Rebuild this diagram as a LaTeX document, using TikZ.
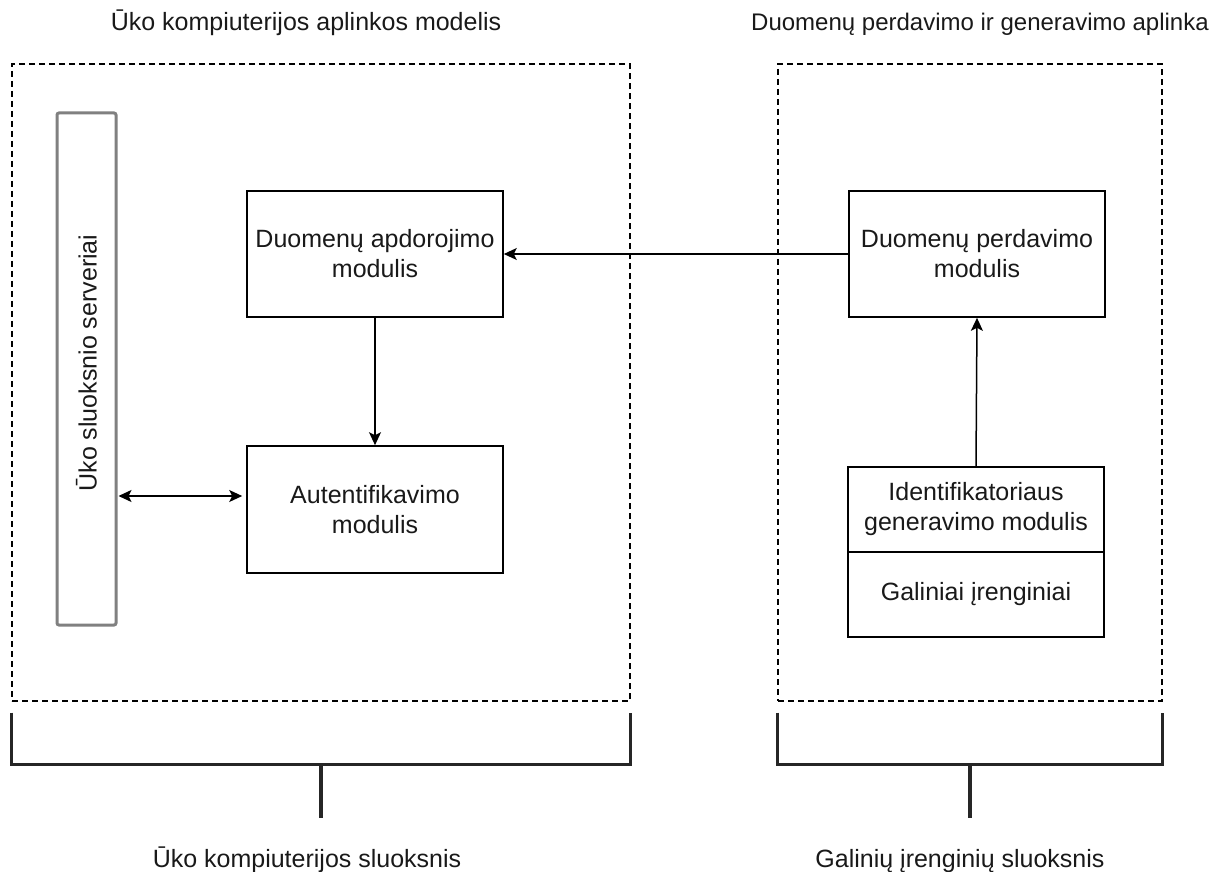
\documentclass[tikz,border=0pt]{standalone}
\usepackage{fontspec}
\setmainfont{Liberation Sans}
\usetikzlibrary{arrows.meta,calc}
\begin{document}
\begin{tikzpicture}[x=1pt,y=-1pt,
  lbl/.style={font=\fontsize{25}{30}\selectfont, align=center, text=black!90},
  module/.style={draw, line width=1.6pt, minimum width=256pt, inner sep=0pt, lbl},
  zone/.style={draw, dash pattern=on 6pt off 4pt, line width=1.3pt, inner sep=0pt},
  tip/.tip={Stealth[length=13pt,width=12pt,inset=3pt]},
  flow/.style={-tip, line width=1.5pt},
  dflow/.style={tip-tip, line width=1.5pt},
  bracketline/.style={line width=3.5pt, draw=black!85},
]
\useasboundingbox (0,0) rectangle (1213,872);

% environment zones
\node[zone, minimum width=618pt, minimum height=637pt] (zoneL) at (321,382.5) {};
\node[zone, minimum width=384pt, minimum height=637pt] (zoneR) at (970,382.5) {};

% zone titles
\node[lbl, anchor=base] (titleL) at (306,31) {Ūko kompiuterijos aplinkos modelis};
\node[lbl, font=\fontsize{24}{29}\selectfont, anchor=base] (titleR) at (980,31) {Duomenų perdavimo ir generavimo aplinka};

% server bar
\node[draw=black!50, line width=3pt, rounded corners=2pt, minimum width=59pt,
      minimum height=512pt, inner sep=0pt] (srv) at (86.5,369) {};
\node[lbl, rotate=90] (srvtext) at ([yshift=6pt]srv.center) {Ūko sluoksnio serveriai};

% modules
\node[module, minimum height=126pt] (proc) at (375,254) {Duomenų apdorojimo\\modulis};
\node[module, minimum height=127pt] (auth) at (375,509.5) {Autentifikavimo\\modulis};
\node[module, minimum height=126pt] (send) at (977,254) {Duomenų perdavimo\\modulis};
\node[module, minimum height=85pt] (ident) at (976,509.5) {Identifikatoriaus\\generavimo modulis};
\node[module, minimum height=85pt] (dev) at (976,594.5) {Galiniai įrenginiai};

% connectors
\draw[flow] (send.west) -- (proc.east);
\draw[flow] (proc.south) -- (auth.north);
\draw[flow] (ident.north) -- (send.south);
\coordinate (authport) at ([yshift=13.5pt]auth.west);
\draw[dflow, shorten >=4pt, shorten <=1pt] (srv.east |- authport) -- (authport);

% layer brackets
\coordinate (bLa) at ([yshift=-11pt]zoneL.south west);
\coordinate (bLb) at ([yshift=-11pt]zoneL.south east);
\coordinate (bRa) at ([yshift=-11pt]zoneR.south west);
\coordinate (bRb) at ([yshift=-11pt]zoneR.south east);
\draw[bracketline] (bLa) -- ++(0,52) coordinate (bLc) -| (bLb);
\draw[bracketline] (bRa) -- ++(0,52) coordinate (bRc) -| (bRb);
\coordinate (stemL) at ($(bLc)!0.5!(bLc -| bLb)$);
\coordinate (stemR) at ($(bRc)!0.5!(bRc -| bRb)$);
\draw[bracketline] (stemL) -- ++(0,53);
\draw[bracketline] (stemR) -- ++(0,53);

% layer names
\node[lbl, anchor=base] (layerL) at (307,867) {Ūko kompiuterijos sluoksnis};
\node[lbl, anchor=base] (layerR) at (960,867) {Galinių įrenginių sluoksnis};
\end{tikzpicture}
\end{document}
